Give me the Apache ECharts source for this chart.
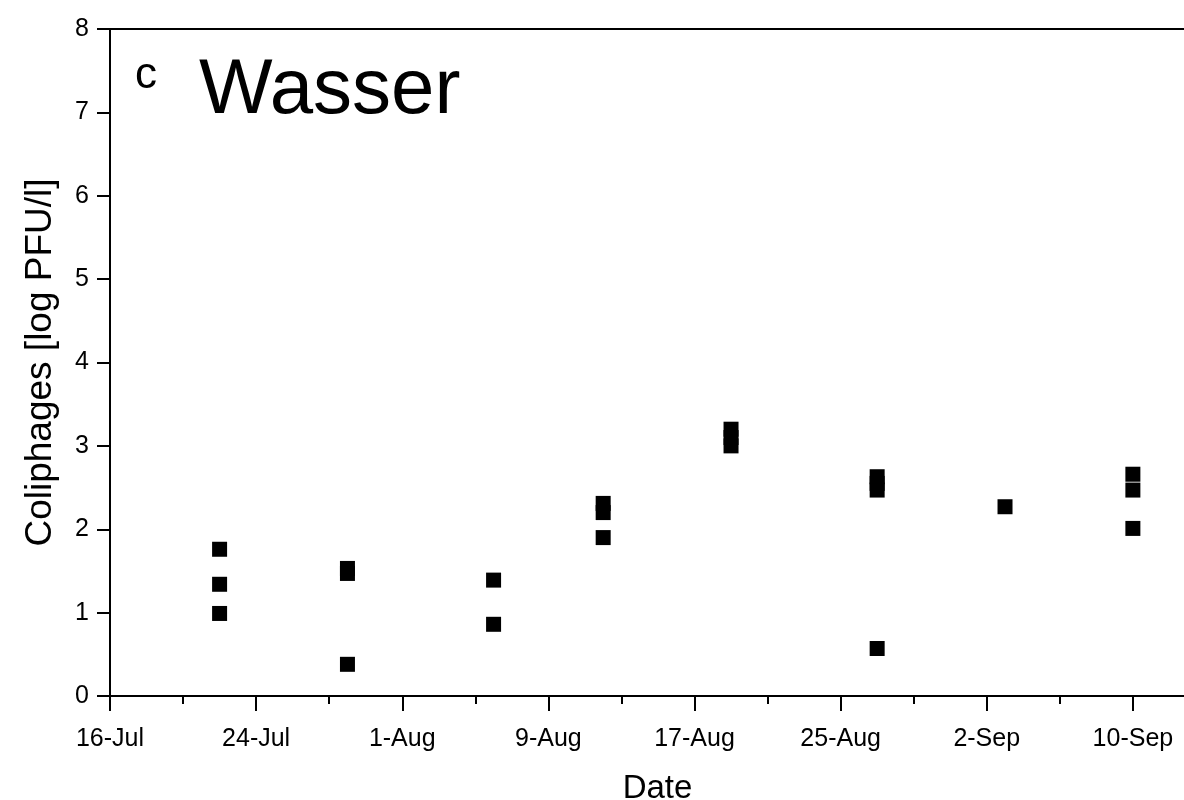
<!DOCTYPE html>
<html>
<head>
<meta charset="utf-8">
<title>Wasser - Coliphages</title>
<script src="https://cdn.jsdelivr.net/npm/echarts@6/dist/echarts.min.js"></script>
<style>
  html, body { margin: 0; padding: 0; background: #fff; overflow: hidden; }
  /* plot frame runs past the right edge of the picture, so the canvas is wider than the window */
  #chart { width: 1320px; height: 800px; }
</style>
</head>
<body>
<div id="chart"></div>
<script>
// sampling dates and coliphage counts (log PFU/l), one entry per sample
var sampleDates = [
  '2013-07-22', '2013-07-22', '2013-07-22',
  '2013-07-29', '2013-07-29', '2013-07-29',
  '2013-08-06', '2013-08-06',
  '2013-08-12', '2013-08-12', '2013-08-12',
  '2013-08-19', '2013-08-19', '2013-08-19',
  '2013-08-27', '2013-08-27', '2013-08-27', '2013-08-27',
  '2013-09-03',
  '2013-09-10', '2013-09-10', '2013-09-10'
]
var coliphages = [
  1.76, 1.34, 0.99,
  1.53, 1.47, 0.38,
  1.39, 0.86,
  2.31, 2.20, 1.90,
  3.20, 3.10, 3.00,
  2.63, 2.55, 2.47, 0.57,
  2.27,
  2.66, 2.47, 2.01
]
var monthNames = ['Jan', 'Feb', 'Mar', 'Apr', 'May', 'Jun', 'Jul', 'Aug', 'Sep', 'Oct', 'Nov', 'Dec']
var startDate = '2013-07-16'   // axis origin
var dayMs = 86400000

function dayOffset (s) {
  return Math.round((Date.parse(s) - Date.parse(startDate)) / dayMs)
}
function dayLabel (d) {
  var dt = new Date(Date.parse(startDate) + d * dayMs)
  return dt.getUTCDate() + '-' + monthNames[dt.getUTCMonth()]
}

var points = []
for (var i = 0; i < sampleDates.length; i++) {
  points.push([dayOffset(sampleDates[i]), coliphages[i]])
}

var font = 'Liberation Sans, Arial, sans-serif'
var chart = echarts.init(document.getElementById('chart'))
var option = {
  backgroundColor: '#fff',
  animation: false,
  graphic: [
    {
      type: 'text', left: 135, top: 54,
      style: { text: 'c', font: '44px ' + font, fill: '#000' }
    },
    {
      type: 'text', left: 199, top: 52,
      style: { text: 'Wasser', font: '78px ' + font, fill: '#000' }
    }
  ],
  grid: {
    left: 110,
    top: 29,
    height: 667,
    width: 1169,
    outerBoundsMode: 'none',
    show: true,
    borderColor: '#000',
    borderWidth: 2
  },
  xAxis: {
    type: 'value',
    min: 0,
    max: 64,
    interval: 8,
    name: 'Date',
    nameLocation: 'middle',
    nameGap: 76,
    nameTextStyle: { fontFamily: font, fontSize: 33, color: '#000', padding: [0, 74, 0, 0] },
    splitLine: { show: false },
    axisLine: { lineStyle: { color: '#000', width: 2 } },
    axisTick: { inside: false, length: 15, lineStyle: { color: '#000', width: 2 } },
    minorTick: { show: true, splitNumber: 2, length: 8, lineStyle: { color: '#000', width: 2 } },
    axisLabel: {
      color: '#000', fontFamily: font, fontSize: 25, margin: 31,
      showMaxLabel: false,
      formatter: function (v) { return dayLabel(v) }
    }
  },
  yAxis: {
    type: 'value',
    min: 0,
    max: 8,
    interval: 1,
    name: 'Coliphages [log PFU/l]',
    nameLocation: 'middle',
    nameGap: 51,
    nameTextStyle: { fontFamily: font, fontSize: 37, color: '#000' },
    splitLine: { show: false },
    axisLine: { lineStyle: { color: '#000', width: 2 } },
    axisTick: { inside: false, length: 13, lineStyle: { color: '#000', width: 2 } },
    axisLabel: { color: '#000', fontFamily: font, fontSize: 25, margin: 21 }
  },
  series: [
    {
      type: 'scatter',
      symbol: 'rect',
      symbolSize: 15,
      itemStyle: { color: '#000', opacity: 1 },
      data: points
    }
  ]
}
chart.setOption(option)
</script>
</body>
</html>
